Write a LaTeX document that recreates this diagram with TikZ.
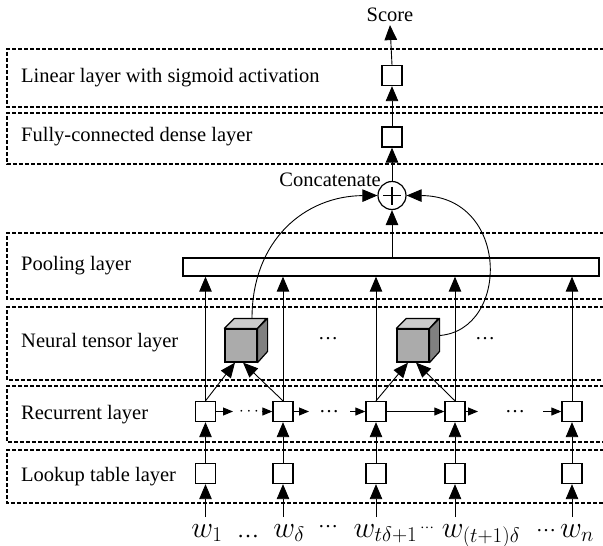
\RequirePackage{fix-cm}
\documentclass[tikz,border=0pt]{standalone}
\usepackage{fontspec}
\setmainfont{Liberation Serif}
\usetikzlibrary{arrows.meta}
\begin{document}
\begin{tikzpicture}[x=1pt,y=-1pt,
  layerbox/.style={dash pattern=on 4pt off 2pt,line width=1.1pt},
  lbl/.style={anchor=west,inner sep=0pt,font=\fontsize{20.5}{24}\selectfont},
  sq/.style={draw,fill=white,minimum size=20pt,inner sep=0pt,line width=1.3pt},
  big/.style={line width=0.9pt,-{Triangle[length=15pt,width=12.5pt]}},
  small/.style={line width=0.9pt,-{Triangle[length=10pt,width=8pt]}},
  word/.style={anchor=base,inner sep=0pt,font=\fontsize{30}{33}\selectfont},
  dots/.style={inner sep=0pt,font=\fontsize{20}{22}\selectfont},
  cubefront/.style={draw,fill=black!33,minimum width=32pt,minimum height=33pt,inner sep=0pt,line width=1.2pt}]
\clip (0,0) rectangle (603,546);
\useasboundingbox (0,0) rectangle (603,546);

% layer boxes (open on the right)
\foreach \t/\b in {49/107,113/164,233/299,307/380,386/442,450/503}
  \draw[layerbox] (610,\t) -- (7,\t) -- (7,\b) -- (610,\b);

% layer labels
\node[lbl] (tlin) at (21,78) {Linear layer with sigmoid activation};
\node[lbl] (tfc) at (21,137) {Fully-connected dense layer};
\node[lbl] (tpool) at (21,266) {Pooling layer};
\node[lbl] (tnt) at (21,343) {Neural tensor layer};
\node[lbl] (trec) at (21,415) {Recurrent layer};
\node[lbl] (tlook) at (21,477) {Lookup table layer};

% top part
\node[inner sep=0pt,font=\fontsize{20.5}{24}\selectfont] (score) at (390,15) {Score};
\node[sq] (lin) at (392,75.5) {};
\node[sq] (fc) at (392,137) {};
\node[draw,circle,minimum size=28pt,inner sep=0pt,line width=1.2pt,fill=white] (cat) at (392,195.5) {};
\draw[line width=1.4pt] ([yshift=9pt]cat.center) -- ([yshift=-9pt]cat.center)
      ([xshift=-9pt]cat.center) -- ([xshift=9pt]cat.center);
\node[anchor=east,inner sep=0pt,font=\fontsize{20.5}{24}\selectfont] (tcat) at (381,180) {Concatenate};
\node[draw,fill=white,minimum width=416pt,minimum height=18pt,inner sep=0pt,line width=1.3pt] (pool) at (391,267) {};

\draw[big] (lin.north) -- ([yshift=-3pt]score.south);
\draw[big] (fc.north) -- (lin.south);
\draw[big] (cat.north) -- (fc.south);
\draw[big] (pool.north -| cat.south) -- (cat.south);

% columns
\foreach \i/\x in {1/205.5,2/283,3/376,4/455,5/572} {
  \node[sq] (r\i) at (\x,411.5) {};
  \node[sq] (l\i) at (\x,473.5) {};
  \coordinate (in\i) at (\x,517);
  \draw[big] (in\i) -- (l\i.south);
  \draw[big] (l\i.north) -- (r\i.south);
  \draw[big] (r\i.north) -- (r\i.north |- pool.south);
}

% words
\node[word] (w1) at (207,537) {$w_1$};
\node[inner sep=0pt,anchor=base,font=\fontsize{22}{24}\selectfont] (d1) at (248,537) {…};
\node[word] (w2) at (289,537) {$w_\delta$};
\node[dots] (d2) at (328,527) {…};
\node[word] (w3) at (385.5,537) {$w_{t\delta+1}$};
\node[inner sep=0pt,font=\fontsize{14}{16}\selectfont] (d3) at (427,528) {…};
\node[word] (w4) at (481,537) {$w_{(t+1)\delta}$};
\node[dots] (d4) at (546,531) {…};
\node[word] (w5) at (577,537) {$w_n$};

% recurrent connections
\coordinate (a1) at (233,411.5);
\node[inner sep=0pt,font=\fontsize{17}{19}\selectfont] (rd1) at (249,411.5) {$\cdots$};
\coordinate (b1) at (262,411.5);
\draw[small] (r1.east) -- (a1);
\draw[small] (b1) -- (r2.west);
\coordinate (a2) at (309,411.5);
\node[dots] (rd2) at (329,411.5) {…};
\coordinate (b2) at (350,411.5);
\draw[small] (r2.east) -- (a2);
\draw[small] (b2) -- (r3.west);
\draw[small] (r3.east) -- (r4.west);
\coordinate (a4) at (478,411.5);
\node[dots] (rd3) at (515,411.5) {…};
\coordinate (b4) at (543,411.5);
\draw[small] (r4.east) -- (a4);
\draw[small] (b4) -- (r5.west);

% cubes
\foreach \c/\x in {1/241,2/413} {
  \node[cubefront] (cube\c) at (\x,345.5) {};
  \draw[line width=1.2pt,fill=black!20,line join=round]
    (cube\c.north west) -- ++(10,-10) -- ++(32,0) -- (cube\c.north east) -- cycle;
  \draw[line width=1.2pt,fill=black!50,line join=round]
    (cube\c.north east) -- ++(10,-10) -- ++(0,33) -- (cube\c.south east) -- cycle;
}
\draw[big] (r1.north) -- ([xshift=-6pt]cube1.south);
\draw[big] (r2.north) -- ([xshift=2pt]cube1.south);
\draw[big] (r3.north) -- ([xshift=-5pt]cube2.south);
\draw[big] (r4.north) -- ([xshift=3pt]cube2.south);

% curves to concatenation
\draw[big] ([xshift=11pt,yshift=10pt]cube1.north) .. controls (252,240) and (305,196) .. (cat.west);
\draw[big] ([xshift=10pt,yshift=10pt]cube2.east) .. controls (510,330) and (510,196) .. (cat.east);

% neural tensor dots
\node[dots] (nd1) at (328,339) {…};
\node[dots] (nd2) at (485,339) {…};
\end{tikzpicture}
\end{document}
